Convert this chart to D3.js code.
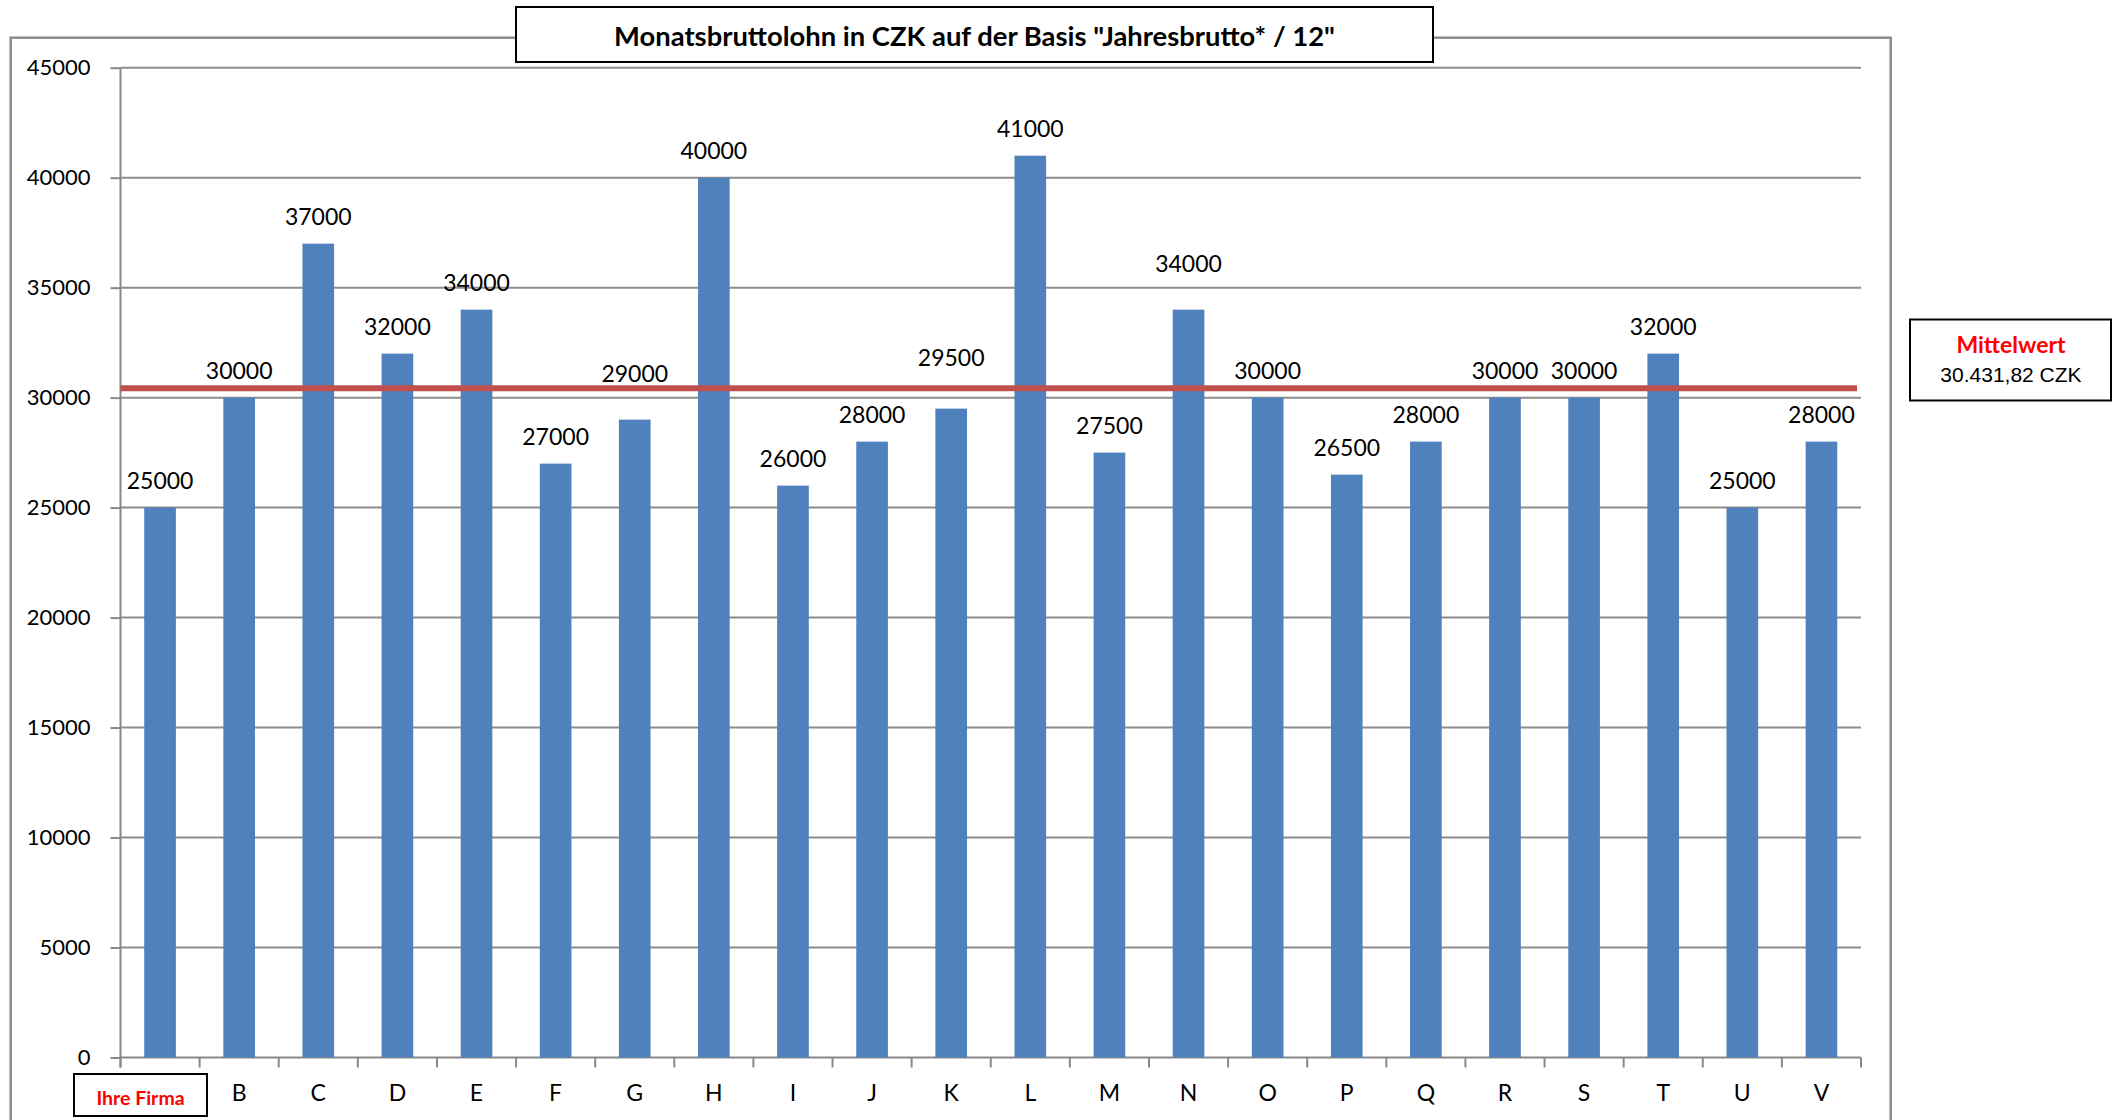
<!DOCTYPE html>
<html>
<head>
<meta charset="utf-8">
<script src="https://cdn.jsdelivr.net/npm/d3@7"></script>
<style>
  html, body { margin: 0; padding: 0; background: #fff; }
  svg { display: block; }
</style>
</head>
<body>
<div class="graphic_container"></div>
<script>
// data
const categories = ['Ihre Firma', 'B', 'C', 'D', 'E', 'F', 'G', 'H', 'I', 'J', 'K',
  'L', 'M', 'N', 'O', 'P', 'Q', 'R', 'S', 'T', 'U', 'V'];
const salaries = [25000, 30000, 37000, 32000, 34000, 27000, 29000, 40000, 26000, 28000, 29500,
  41000, 27500, 34000, 30000, 26500, 28000, 30000, 30000, 32000, 25000, 28000];
const yTicks = [0, 5000, 10000, 15000, 20000, 25000, 30000, 35000, 40000, 45000];
const titleText = 'Monatsbruttolohn in CZK auf der Basis "Jahresbrutto* / 12"';
const meanLabel = 'Mittelwert';

// labels that were pushed up off the mean line (px)
const labelNudge = { G: -19, K: -24, N: -19 };

const width = 2113, height = 1120;
const plot = { left: 120.5, right: 1861, top: 67.7, bottom: 1057.5 };
const font = 'Lato, "Open Sans", sans-serif';
const gray = '#888888';

const svg = d3.select('.graphic_container')
  .append('svg')
  .attr('width', width)
  .attr('height', height)
  .style('font-family', font);

//scales
const x = d3.scaleBand()
  .domain(categories)
  .range([plot.left, plot.right])
  .paddingInner(0.6)
  .paddingOuter(0.3);

const xEdge = d3.scaleBand()
  .domain(categories)
  .range([plot.left, plot.right]);

const y = d3.scaleLinear()
  .domain([0, 45000])
  .range([plot.bottom, plot.top]);

const meanValue = d3.mean(salaries);
const de = d3.formatLocale({ decimal: ',', thousands: '.', grouping: [3], currency: ['', ' CZK'] });

//outer chart frame
svg.append('rect')
  .attr('x', 10.7)
  .attr('y', 37.7)
  .attr('width', 1890.7 - 10.7)
  .attr('height', 1200)
  .attr('fill', 'none')
  .attr('stroke', gray)
  .attr('stroke-width', 2.4);

//gridlines
svg.append('g')
  .selectAll('line')
  .data(yTicks.filter(d => d > 0))
  .join('line')
  .attr('x1', plot.left)
  .attr('x2', plot.right)
  .attr('y1', d => y(d))
  .attr('y2', d => y(d))
  .attr('stroke', '#8c8c8c')
  .attr('stroke-width', 2);

//y axis
const yAxis = svg.append('g')
  .attr('transform', `translate(${plot.left},0)`)
  .call(d3.axisLeft(y).tickValues(yTicks).tickSize(10).tickPadding(20).tickFormat(d3.format('d')));

yAxis.select('.domain').attr('stroke', gray).attr('stroke-width', 2)
  .attr('d', `M0,${plot.top}V${plot.bottom + 10}`);
yAxis.selectAll('.tick line').attr('stroke', gray).attr('stroke-width', 2);
yAxis.selectAll('.tick text')
  .style('font-family', font)
  .style('font-size', '22px')
  .attr('fill', '#000');

//x axis with ticks on the band edges
const xAxis = svg.append('g');
xAxis.append('line')
  .attr('x1', plot.left)
  .attr('x2', plot.right)
  .attr('y1', y(0))
  .attr('y2', y(0))
  .attr('stroke', gray)
  .attr('stroke-width', 2);

xAxis.selectAll('.edge')
  .data(categories.map(c => xEdge(c)).concat([plot.right]))
  .join('line')
  .attr('class', 'edge')
  .attr('x1', d => d)
  .attr('x2', d => d)
  .attr('y1', y(0))
  .attr('y2', y(0) + 10)
  .attr('stroke', gray)
  .attr('stroke-width', 2);

xAxis.selectAll('.cat')
  .data(categories.slice(1))
  .join('text')
  .attr('class', 'cat')
  .attr('x', d => x(d) + x.bandwidth() / 2)
  .attr('y', 1101)
  .attr('text-anchor', 'middle')
  .style('font-size', '23px')
  .text(d => d);

//"Ihre Firma" gets its own framed red label
svg.append('rect')
  .attr('x', 74)
  .attr('y', 1074)
  .attr('width', 133)
  .attr('height', 42)
  .attr('fill', '#fff')
  .attr('stroke', '#000')
  .attr('stroke-width', 2);

svg.append('text')
  .attr('x', 140.5)
  .attr('y', 1105)
  .attr('text-anchor', 'middle')
  .style('font-size', '19.5px')
  .style('font-weight', 'bold')
  .attr('fill', '#ff0000')
  .text(categories[0]);

//bars
svg.append('g')
  .selectAll('rect')
  .data(salaries)
  .join('rect')
  .attr('x', (d, i) => x(categories[i]))
  .attr('y', d => y(d))
  .attr('width', x.bandwidth())
  .attr('height', d => y(0) - y(d))
  .attr('fill', '#4f81bd');

//mean line
const meanLine = d3.line()
  .x(d => d)
  .y(() => y(meanValue));

svg.append('path')
  .datum([plot.left, plot.right - 4])
  .attr('d', meanLine)
  .attr('fill', 'none')
  .attr('stroke', '#c0504d')
  .attr('stroke-width', 6);

//value labels
svg.append('g')
  .selectAll('text')
  .data(salaries)
  .join('text')
  .attr('x', (d, i) => x(categories[i]) + x.bandwidth() / 2)
  .attr('y', (d, i) => y(d) - 18.5 + (labelNudge[categories[i]] || 0))
  .attr('text-anchor', 'middle')
  .style('font-size', '23px')
  .text(d => d);

//title box
svg.append('rect')
  .attr('x', 516)
  .attr('y', 7)
  .attr('width', 1433 - 516)
  .attr('height', 55)
  .attr('fill', '#fff')
  .attr('stroke', '#000')
  .attr('stroke-width', 2);

svg.append('text')
  .attr('x', (516 + 1433) / 2)
  .attr('y', 46)
  .attr('text-anchor', 'middle')
  .style('font-size', '27.4px')
  .style('font-weight', 'bold')
  .text(titleText);

//mean legend box
svg.append('rect')
  .attr('x', 1910)
  .attr('y', 319.5)
  .attr('width', 201)
  .attr('height', 81)
  .attr('fill', '#fff')
  .attr('stroke', '#000')
  .attr('stroke-width', 2);

svg.append('text')
  .attr('x', 2011)
  .attr('y', 352.7)
  .attr('text-anchor', 'middle')
  .style('font-size', '23px')
  .style('font-weight', 'bold')
  .attr('fill', '#ff0000')
  .text(meanLabel);

svg.append('text')
  .attr('x', 2011)
  .attr('y', 382)
  .attr('text-anchor', 'middle')
  .style('font-family', '"Liberation Sans", Arial, sans-serif')
  .style('font-size', '21px')
  .text(de.format(',.2f')(meanValue) + ' CZK');
</script>
</body>
</html>
